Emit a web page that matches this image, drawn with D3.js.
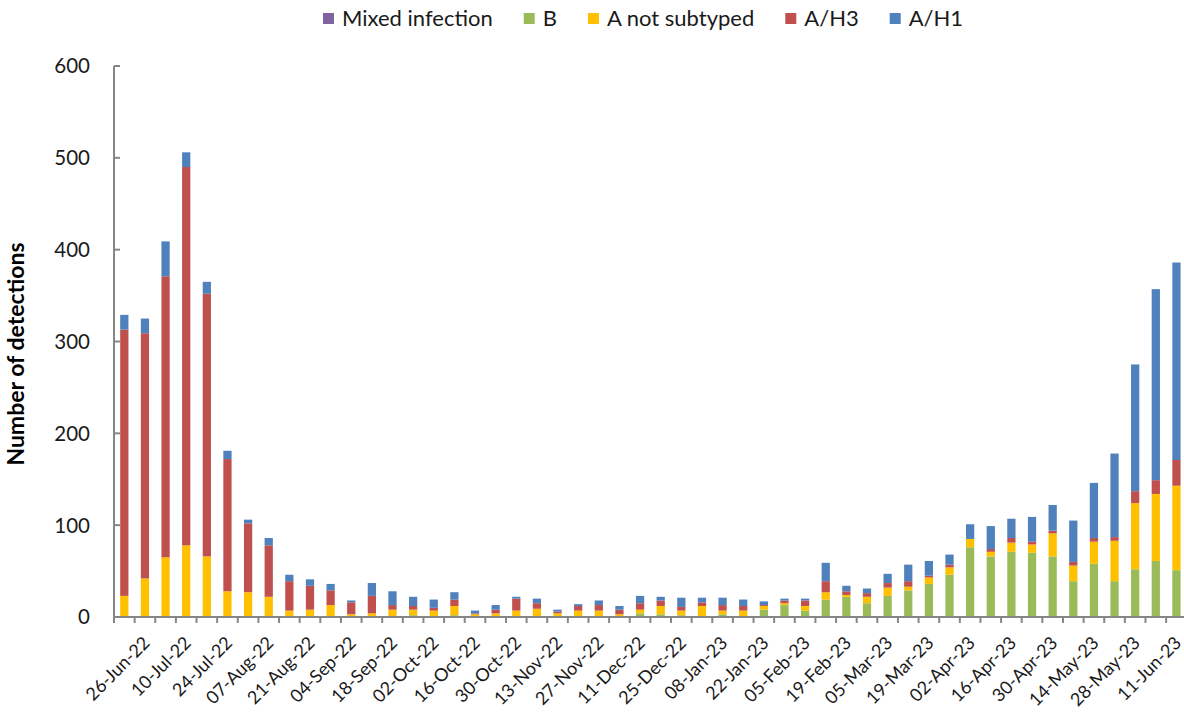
<!DOCTYPE html>
<html>
<head>
<meta charset="utf-8">
<script src="https://cdn.jsdelivr.net/npm/d3@7"></script>
<style>
  html, body { margin: 0; padding: 0; background: #fff; }
  svg { display: block; font-family: Lato, "Open Sans", sans-serif; }
</style>
</head>
<body>
<svg id="chart" width="1184" height="714"></svg>
<script>
const weeks = ["19-Jun-22","26-Jun-22","03-Jul-22","10-Jul-22","17-Jul-22","24-Jul-22","31-Jul-22","07-Aug-22","14-Aug-22","21-Aug-22","28-Aug-22","04-Sep-22","11-Sep-22","18-Sep-22","25-Sep-22","02-Oct-22","09-Oct-22","16-Oct-22","23-Oct-22","30-Oct-22","06-Nov-22","13-Nov-22","20-Nov-22","27-Nov-22","04-Dec-22","11-Dec-22","18-Dec-22","25-Dec-22","01-Jan-23","08-Jan-23","15-Jan-23","22-Jan-23","29-Jan-23","05-Feb-23","12-Feb-23","19-Feb-23","26-Feb-23","05-Mar-23","12-Mar-23","19-Mar-23","26-Mar-23","02-Apr-23","09-Apr-23","16-Apr-23","23-Apr-23","30-Apr-23","07-May-23","14-May-23","21-May-23","28-May-23","04-Jun-23","11-Jun-23"];

const seriesNames = ["Mixed infection","B","A not subtyped","A/H3","A/H1"];

const mixedInfection = [0,0,0,0,0,0,0,0,0,0,0,0,0,0,0,0,0,0,0,0,0,0,0,0,0,0,0,0,0,0,0,0,0,0,0,0,0,0,0,0,0,0,0,0,0,0,0,0,0,0,0,0];
const fluB = [0,0,0,0,0,0,0,0,0,0,1,0,0,0,2,0,2,0,0,0,0,0,0,0,0,4,3,2,0,3,0,8,13,7,19,22,15,23,29,36,46,76,66,71,70,66,39,58,39,52,61,51];
const aNotSubtyped = [23,42,65,78,66,28,27,22,7,8,12,3,4,8,6,7,10,3,4,7,9,4,7,7,3,4,9,5,12,4,7,4,2,5,8,2,7,9,4,7,8,9,5,10,9,25,17,24,44,72,73,92];
const aH3 = [290,267,306,412,286,144,75,56,32,26,16,13,19,5,4,3,7,1,4,13,6,2,5,6,5,7,6,4,4,6,5,1,3,6,12,4,4,5,6,2,3,0,3,5,3,3,4,4,4,13,15,28];
const aH1 = [16,16,38,16,13,9,4,8,7,7,7,2,14,15,10,9,8,3,5,2,5,2,2,5,4,8,4,10,5,8,7,4,2,2,20,6,5,10,18,16,11,16,25,21,27,28,45,60,91,138,208,215];

const yTicks = [0,100,200,300,400,500,600];

const colors = {"Mixed infection":"#8064A2","B":"#9BBB59","A not subtyped":"#FFC000","A/H3":"#C0504D","A/H1":"#4F81BD"};

const valuesBySeries = {"Mixed infection":mixedInfection,"B":fluB,"A not subtyped":aNotSubtyped,"A/H3":aH3,"A/H1":aH1};
const table = weeks.map((w,i)=>{
  const row = {week:w};
  seriesNames.forEach(s=>row[s]=valuesBySeries[s][i]);
  return row;
});

const svg = d3.select("#chart");
const axisColor = "#868686";
const plotLeft = 114, plotBottom = 617, plotTop = 66;
const step = 20.63;
const x = d3.scaleBand().domain(weeks).range([plotLeft, plotLeft + step*weeks.length]).paddingInner(0.6).paddingOuter(0.3);
const y = d3.scaleLinear().domain([0,600]).range([plotBottom, plotTop]);

const layers = d3.stack().keys(seriesNames)(table);

svg.append("g").selectAll("g").data(layers).join("g")
  .attr("fill", d=>colors[d.key])
  .selectAll("rect").data(d=>d).join("rect")
  .attr("x", d=>x(d.data.week))
  .attr("width", x.bandwidth())
  .attr("y", d=>y(d[1]))
  .attr("height", d=>Math.max(0, y(d[0]) - y(d[1])));

// Y axis
const yAxis = svg.append("g");
yAxis.append("line").attr("x1", plotLeft).attr("x2", plotLeft).attr("y1", y(600)).attr("y2", plotBottom)
  .attr("stroke", axisColor).attr("stroke-width", 2);
yAxis.selectAll("line.tick").data(yTicks).join("line").attr("class","tick")
  .attr("x1", plotLeft).attr("x2", plotLeft+6).attr("y1", d=>y(d)).attr("y2", d=>y(d))
  .attr("stroke", axisColor).attr("stroke-width", 2);
yAxis.selectAll("text").data(yTicks).join("text")
  .attr("x", 90).attr("y", d=>y(d)).attr("dy","0.36em")
  .attr("text-anchor","end").attr("font-size", 20.5).attr("fill","#1a1a1a")
  .text(d=>d);

// X axis
const xAxis = svg.append("g");
const rightEnd = plotLeft + step*weeks.length;
xAxis.append("line").attr("x1", plotLeft).attr("x2", rightEnd).attr("y1", plotBottom).attr("y2", plotBottom)
  .attr("stroke", axisColor).attr("stroke-width", 2);
const boundaries = weeks.map(w => x(w) - (x.step()-x.bandwidth())/2).concat([rightEnd]);
xAxis.selectAll("line.tick").data(boundaries).join("line").attr("class","tick")
  .attr("x1", d=>d).attr("x2", d=>d).attr("y1", plotBottom).attr("y2", plotBottom+6)
  .attr("stroke", axisColor).attr("stroke-width", 2);
xAxis.selectAll("text").data(weeks.filter((w,i)=>i%2===1)).join("text")
  .attr("transform", w=>`translate(${x(w)+x.bandwidth()/2+6},${plotBottom+27}) rotate(-45)`)
  .attr("text-anchor","end").attr("font-size", 18).attr("fill","#1a1a1a")
  .text(w=>w);

// Y label
svg.append("text").attr("transform","translate(24,354) rotate(-90)")
  .attr("text-anchor","middle").attr("font-size",23).attr("font-weight","bold").attr("fill","#000")
  .text("Number of detections");

// Legend
const legend = svg.append("g");
let lx = 323;
seriesNames.forEach(s=>{
  legend.append("rect").attr("x", lx).attr("y", 13).attr("width", 11).attr("height", 11).attr("fill", colors[s]);
  const t = legend.append("text").attr("x", lx+19).attr("y", 26).attr("font-size", 22).attr("fill","#1a1a1a").text(s);
  lx += 19 + t.node().getComputedTextLength() + 31;
});
</script>
</body>
</html>
